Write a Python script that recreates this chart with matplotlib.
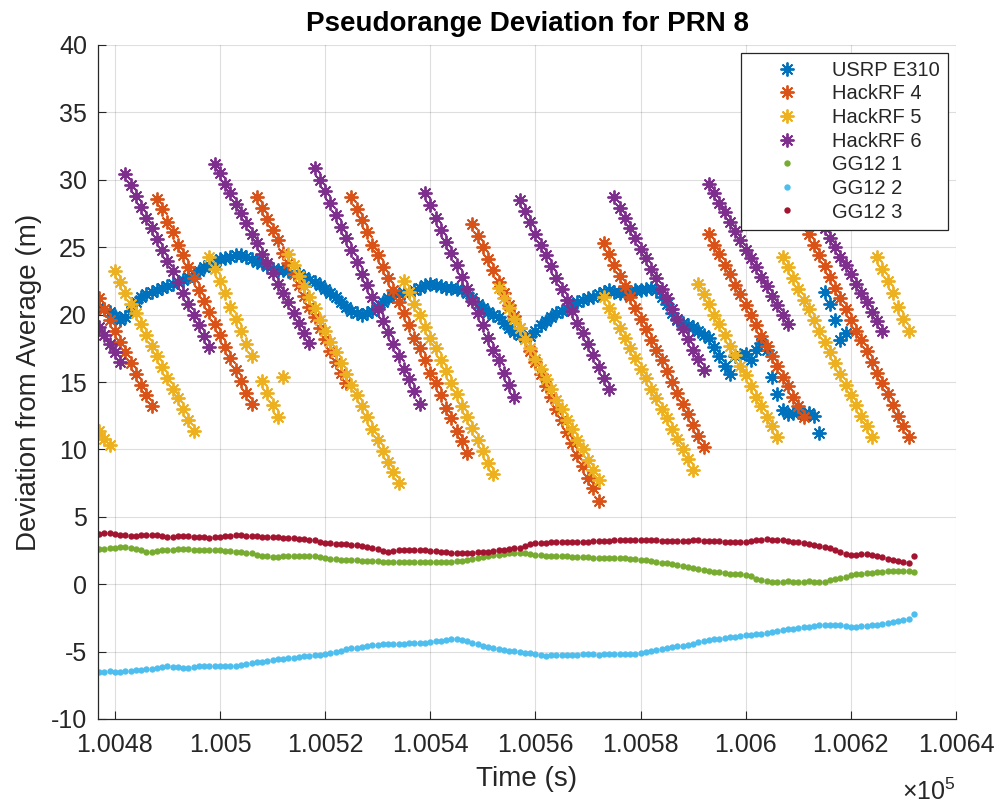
import numpy as np
import matplotlib
matplotlib.use('Agg')
import matplotlib.pyplot as plt

plt.rcParams['font.family'] = ['Liberation Sans', 'DejaVu Sans']
plt.rcParams['mathtext.fontset'] = 'custom'
plt.rcParams['mathtext.rm'] = 'Liberation Sans'
plt.rcParams['axes.unicode_minus'] = False

# ---------------- data (1 sample per second, starting at T0) ----------------
T0 = 100477
NAN = np.nan

usrp_e310 = [
    20.6, 20.4, 20.2, 19.9, 19.6, 19.8, 20.3, 20.9, 21.3, 21.5,
    21.7, 21.8, 22.0, 22.1, 22.3, 22.4, 22.6, 22.8, 23.0, 23.2,
    23.5, 23.7, 23.9, 24.1, 24.2, 24.3, 24.4, 24.4, 24.3, 24.1,
    23.9, 23.8, 23.6, 23.4, 23.3, 23.3, 23.2, 23.1, 23.0, 22.8,
    22.6, 22.4, 22.2, 21.9, 21.6, 21.3, 20.9, 20.6, 20.3, 20.1,
    20.0, 20.1, 20.3, 20.6, 20.9, 21.2, 21.4, 21.5, 21.6, 21.7,
    21.8, 22.0, 22.2, 22.3, 22.2, 22.1, 22.0, 22.0, 21.9, 21.8,
    21.6, 21.2, 20.8, 20.5, 20.2, 20.0, 19.8, 19.4, 19.0, 18.7,
    18.5, 18.3, 18.4, 18.8, 19.2, 19.5, 19.8, 20.1, 20.3, 20.5,
    20.7, 20.9, 21.1, 21.2, 21.3, 21.5, 21.7, 21.8, 21.7, 21.6,
    21.6, 21.7, 21.8, 21.8, 21.9, 22.0, 21.8, 21.3, 20.8, 20.1,
    19.6, 19.4, 19.2, 19.1, 18.8, 18.5, 18.3, 17.6, 16.9, 16.2,
    15.6, 16.9, 17.0, 17.1, 16.6, 17.4, 17.9, 17.4, 15.4, 14.1,
    12.9, 12.6, 12.7, 12.8, 12.6, 12.7, 12.5, 11.2, 21.7, 20.8,
    19.6, 18.1, 18.6,
]

hackrf_4 = [
    21.2, 20.4, 19.6, 18.8, 18.0, 17.2, 16.4, 15.6, 14.8, 14.0, 13.2,
    28.6, 27.8, 26.9, 26.1, 25.2, 24.4, 23.5, 22.7, 21.8, 21.0, 20.2, 19.3,
    18.5, 17.6, 16.8, 15.9, 15.1, 14.2, 13.4,
    28.7, 27.9, 27.1, 26.3, 25.5, 24.6, 23.8, 23.0, 22.2, 21.4, 20.6, 19.8,
    19.0, 18.2, 17.3, 16.5, 15.7, 14.9,
    28.7, 27.8, 27.0, 26.1, 25.2, 24.4, 23.5, 22.7, 21.8, 20.9, 20.1, 19.2,
    18.3, 17.5, 16.6, 15.7, 14.9, 14.0, 13.1, 12.3, 11.4, 10.6, 9.7,
    26.7, 25.8, 25.0, 24.1, 23.3, 22.4, 21.6, 20.7, 19.9, 19.0, 18.2, 17.3,
    16.5, 15.6, 14.7, 13.9, 13.0, 12.2, 11.3, 10.5, 9.6, 8.8, 7.9, 7.1, 6.2,
    25.3, 24.5, 23.7, 22.9, 22.1, 21.3, 20.5, 19.7, 18.9, 18.1, 17.4, 16.6,
    15.8, 15.0, 14.2, 13.4, 12.6, 11.8, 11.0, 10.2,
    26.0, 25.2, 24.5, 23.7, 23.0, 22.2, 21.5, 20.7, 20.0, 19.2, 18.4, 17.7,
    16.9, 16.2, 15.4, 14.7, 13.9, 13.2, 12.4,
    26.0, 25.2, 24.4, 23.6, 22.8, 22.0, 21.2, 20.4, 19.6, 18.8, 18.1, 17.3,
    16.5, 15.7, 14.9, 14.1, 13.3, 12.5, 11.7, 10.9,
]

hackrf_5 = [
    11.4, 10.8, 10.3,
    23.2, 22.4, 21.6, 20.8, 20.1, 19.3, 18.5, 17.7, 16.9, 16.1, 15.3, 14.5,
    13.8, 13.0, 12.2, 11.4,
    NAN, NAN,
    24.3, 23.4, 22.5, 21.6, 20.6, 19.7, 18.8, 17.8, 16.9,
    NAN,
    15.1, 14.2, 13.3, 12.4,
    15.4,
    24.5, 23.7, 22.9, 22.1, 21.3, 20.5, 19.6, 18.8, 18.0, 17.2, 16.4, 15.6,
    14.8, 14.0, 13.2, 12.4, 11.5, 10.7, 9.9, 9.1, 8.3, 7.5,
    22.5, 21.7, 20.8, 20.0, 19.1, 18.3, 17.5, 16.6, 15.8, 14.9, 14.1, 13.2,
    12.4, 11.6, 10.7, 9.9, 9.0, 8.2,
    22.0, 21.2, 20.5, 19.7, 19.0, 18.2, 17.5, 16.7, 16.0, 15.2, 14.5, 13.7,
    13.0, 12.2, 11.5, 10.7, 10.0, 9.2, 8.5, 7.7,
    21.3, 20.5, 19.8, 19.0, 18.3, 17.5, 16.8, 16.0, 15.3, 14.5, 13.8, 13.0,
    12.3, 11.5, 10.8, 10.0, 9.3, 8.5,
    22.3, 21.5, 20.8, 20.0, 19.3, 18.5, 17.7, 17.0, 16.2, 15.5, 14.7, 13.9,
    13.2, 12.4, 11.7, 10.9,
    24.3, 23.5, 22.7, 21.9, 21.1, 20.4, 19.6, 18.8, 18.0, 17.2, 16.4, 15.6,
    14.8, 14.0, 13.3, 12.5, 11.7, 10.9,
    24.3, 23.4, 22.5, 21.6, 20.6, 19.7, 18.8,
]

hackrf_6 = [
    19.1, 18.5, 17.8, 17.2, 16.5,
    30.4, 29.6, 28.8, 28.0, 27.2, 26.4, 25.6, 24.8, 24.0, 23.2, 22.4, 21.6,
    20.8, 20.0, 19.2, 18.4, 17.6,
    31.2, 30.5, 29.7, 29.0, 28.2, 27.5, 26.8, 26.0, 25.3, 24.5, 23.8, 23.1,
    22.3, 21.6, 20.9, 20.1, 19.4, 18.6, 17.9,
    30.9, 30.0, 29.2, 28.3, 27.4, 26.5, 25.7, 24.8, 23.9, 23.0, 22.2, 21.3,
    20.4, 19.5, 18.7, 17.8, 16.9, 16.0, 15.2, 14.3, 13.4,
    29.0, 28.1, 27.2, 26.3, 25.4, 24.6, 23.7, 22.8, 21.9, 21.0, 20.1, 19.2,
    18.3, 17.4, 16.6, 15.7, 14.8, 13.9,
    28.5, 27.7, 26.9, 26.0, 25.2, 24.4, 23.6, 22.7, 21.9, 21.1, 20.3, 19.4,
    18.6, 17.8, 17.0, 16.1, 15.3, 14.5,
    28.7, 27.9, 27.2, 26.4, 25.7, 24.9, 24.2, 23.4, 22.7, 21.9, 21.2, 20.4,
    19.7, 18.9, 18.2, 17.4, 16.7, 15.9,
    29.7, 29.0, 28.3, 27.6, 26.9, 26.2, 25.5, 24.8, 24.2, 23.5, 22.8, 22.1,
    21.4, 20.7, 20.0, 19.3,
    30.6, 29.9, 29.2, 28.5, 27.8, 27.1, 26.4, 25.7, 25.0, 24.3, 23.7, 23.0,
    22.3, 21.6, 20.9, 20.2, 19.5, 18.8,
]

gg12_1 = [
    2.6, 2.62, 2.68, 2.72, 2.75, 2.74, 2.7, 2.62, 2.5, 2.42,
    2.42, 2.45, 2.5, 2.55, 2.56, 2.58, 2.6, 2.58, 2.55, 2.52,
    2.52, 2.54, 2.55, 2.52, 2.48, 2.44, 2.4, 2.36, 2.34, 2.3,
    2.2, 2.12, 2.06, 2.04, 2.05, 2.08, 2.1, 2.1, 2.08, 2.1,
    2.1, 2.08, 2.02, 1.96, 1.9, 1.85, 1.82, 1.8, 1.78, 1.76,
    1.75, 1.74, 1.72, 1.7, 1.68, 1.66, 1.65, 1.66, 1.67, 1.68,
    1.66, 1.64, 1.65, 1.67, 1.68, 1.67, 1.66, 1.67, 1.7, 1.75,
    1.82, 1.9, 1.98, 2.05, 2.1, 2.15, 2.2, 2.24, 2.28, 2.3,
    2.3, 2.28, 2.24, 2.2, 2.15, 2.12, 2.1, 2.1, 2.08, 2.06,
    2.05, 2.04, 2.02, 2.0, 1.98, 1.96, 1.95, 1.94, 1.93, 1.93,
    1.92, 1.9, 1.86, 1.82, 1.78, 1.72, 1.66, 1.6, 1.56, 1.5,
    1.42, 1.35, 1.28, 1.2, 1.12, 1.06, 1.0, 0.94, 0.88, 0.82,
    0.78, 0.75, 0.72, 0.7, 0.6, 0.4, 0.3, 0.25, 0.2, 0.19,
    0.2, 0.22, 0.2, 0.18, 0.2, 0.22, 0.2, 0.19, 0.2, 0.28,
    0.36, 0.45, 0.55, 0.65, 0.72, 0.78, 0.82, 0.86, 0.9, 0.93,
    0.95, 0.96, 0.97, 0.96, 0.95, 0.94,
]

gg12_2 = [
    -6.48, -6.5, -6.45, -6.48, -6.5, -6.46, -6.42, -6.38, -6.35, -6.3,
    -6.28, -6.22, -6.15, -6.1, -6.12, -6.16, -6.2, -6.18, -6.14, -6.1,
    -6.08, -6.06, -6.05, -6.06, -6.08, -6.06, -6.04, -5.98, -5.92, -5.85,
    -5.8, -5.74, -5.68, -5.6, -5.56, -5.52, -5.48, -5.44, -5.4, -5.36,
    -5.32, -5.28, -5.24, -5.18, -5.1, -5.0, -4.92, -4.84, -4.76, -4.7,
    -4.64, -4.58, -4.52, -4.5, -4.46, -4.44, -4.42, -4.4, -4.4, -4.38,
    -4.37, -4.36, -4.36, -4.3, -4.24, -4.18, -4.12, -4.08, -4.06, -4.12,
    -4.22, -4.34, -4.46, -4.58, -4.68, -4.76, -4.82, -4.87, -4.92, -4.98,
    -5.04, -5.08, -5.14, -5.2, -5.26, -5.3, -5.28, -5.26, -5.24, -5.24,
    -5.22, -5.22, -5.2, -5.2, -5.2, -5.22, -5.2, -5.18, -5.18, -5.16,
    -5.16, -5.18, -5.16, -5.14, -5.06, -4.98, -4.9, -4.82, -4.74, -4.68,
    -4.62, -4.56, -4.48, -4.4, -4.32, -4.24, -4.16, -4.1, -4.04, -3.98,
    -3.92, -3.88, -3.84, -3.8, -3.76, -3.72, -3.66, -3.6, -3.54, -3.48,
    -3.42, -3.36, -3.3, -3.26, -3.2, -3.14, -3.1, -3.06, -3.02, -3.0,
    -3.02, -3.06, -3.1, -3.14, -3.14, -3.12, -3.1, -3.06, -3.0, -2.96,
    -2.9, -2.84, -2.76, -2.66, -2.6, -2.2,
]

gg12_3 = [
    3.75, 3.8, 3.78, 3.72, 3.68, 3.62, 3.6, 3.58, 3.62, 3.65,
    3.68, 3.62, 3.55, 3.5, 3.52, 3.56, 3.6, 3.55, 3.5, 3.48,
    3.5, 3.46, 3.48, 3.5, 3.55, 3.6, 3.65, 3.62, 3.58, 3.55,
    3.54, 3.52, 3.5, 3.52, 3.5, 3.45, 3.42, 3.4, 3.38, 3.35,
    3.3, 3.25, 3.1, 3.04, 3.02, 3.0, 2.98, 2.95, 2.92, 2.9,
    2.85, 2.78, 2.7, 2.6, 2.45, 2.42, 2.48, 2.5, 2.52, 2.54,
    2.55, 2.54, 2.5, 2.48, 2.45, 2.42, 2.38, 2.35, 2.32, 2.3,
    2.32, 2.35, 2.38, 2.4, 2.42, 2.45, 2.5, 2.55, 2.6, 2.65,
    2.72, 2.85, 2.95, 3.02, 3.05, 3.08, 3.1, 3.12, 3.12, 3.14,
    3.15, 3.14, 3.15, 3.16, 3.18, 3.2, 3.22, 3.24, 3.25, 3.26,
    3.27, 3.28, 3.28, 3.28, 3.27, 3.26, 3.25, 3.24, 3.22, 3.2,
    3.2, 3.22, 3.24, 3.25, 3.26, 3.24, 3.22, 3.2, 3.18, 3.16,
    3.15, 3.15, 3.14, 3.15, 3.18, 3.25, 3.3, 3.32, 3.3, 3.28,
    3.25, 3.2, 3.15, 3.1, 3.05, 3.0, 2.92, 2.85, 2.75, 2.65,
    2.5, 2.38, 2.25, 2.2, 2.18, 2.22, 2.25, 2.2, 2.1, 2.0,
    1.9, 1.82, 1.75, 1.65, 1.58, 2.1,
]

star_series = ['USRP E310', 'HackRF 4', 'HackRF 5', 'HackRF 6']
dot_series = ['GG12 1', 'GG12 2', 'GG12 3']
x_ticks = [100480, 100500, 100520, 100540, 100560, 100580, 100600, 100620, 100640]
x_tick_labels = ['1.0048', '1.005', '1.0052', '1.0054', '1.0056', '1.0058',
                 '1.006', '1.0062', '1.0064']
y_ticks = [-10, -5, 0, 5, 10, 15, 20, 25, 30, 35, 40]

# ---------------- styling ----------------
colors = ['#0072BD', '#D95319', '#EDB120', '#7E2F8E', '#77AC30', '#4DBEEE', '#A2142F']
axis_col = '#262626'
W, H = 1001, 805

fig = plt.figure(figsize=(W / 100, H / 100), dpi=100)
ax = fig.add_axes([98 / W, 1 - 719 / H, (956 - 98) / W, (719 - 45) / H])

asterisk = (8, 2, 0)
for name, vals, col in zip(star_series, [usrp_e310, hackrf_4, hackrf_5, hackrf_6], colors[:4]):
    v = np.array(vals, dtype=float)
    t = T0 + np.arange(len(v))
    ax.plot(t, v, linestyle='none', marker=asterisk, markersize=10,
            markeredgewidth=1.35, color=col, label=name)
for name, vals, col in zip(dot_series, [gg12_1, gg12_2, gg12_3], colors[4:]):
    v = np.array(vals, dtype=float)
    t = T0 + np.arange(len(v))
    ax.plot(t, v, linestyle='none', marker='o', markersize=4.6,
            markeredgewidth=0, color=col, label=name)

ax.set_xlim(100476.8, 100640)
ax.set_ylim(-10, 40)
ax.set_xticks(x_ticks)
ax.set_xticklabels(x_tick_labels)
ax.set_yticks(y_ticks)

ax.grid(True, color=axis_col, alpha=0.15, linewidth=0.8)
ax.set_axisbelow(True)
for s in ['top', 'right']:
    ax.spines[s].set_visible(False)
for s in ['left', 'bottom']:
    ax.spines[s].set_color(axis_col)
    ax.spines[s].set_linewidth(0.9)
ax.tick_params(axis='both', direction='in', length=6, width=0.8,
               colors=axis_col, labelsize=18)
ax.tick_params(axis='x', pad=10)
ax.tick_params(axis='y', pad=8)

ax.set_title('Pseudorange Deviation for PRN 8', fontsize=20, fontweight='bold',
             color='black', pad=10)
ax.set_xlabel('Time (s)', fontsize=20, color=axis_col)
ax.xaxis.set_label_coords(0.5, -(766 - 719) / 674)
ax.set_ylabel('Deviation from Average (m)', fontsize=20, color=axis_col)
ax.yaxis.set_label_coords(-(98 - 42) / 858, 0.5)

ax.text(1.0, -(800 - 719) / 674, r'$\times\mathregular{10^{5}}$', transform=ax.transAxes,
        ha='right', va='baseline', fontsize=18, color=axis_col)

leg = ax.legend(loc='upper right', bbox_to_anchor=(948 / W, 1 - 52.7 / H),
                bbox_transform=fig.transFigure, fontsize=14.5, frameon=True,
                fancybox=False, framealpha=1, edgecolor=axis_col,
                borderaxespad=0, borderpad=0.4, handlelength=3.8,
                handletextpad=0.35, labelspacing=0.23)
leg.get_frame().set_linewidth(0.9)
for txt in leg.get_texts():
    txt.set_color(axis_col)

fig.savefig('out.png', dpi=100)
